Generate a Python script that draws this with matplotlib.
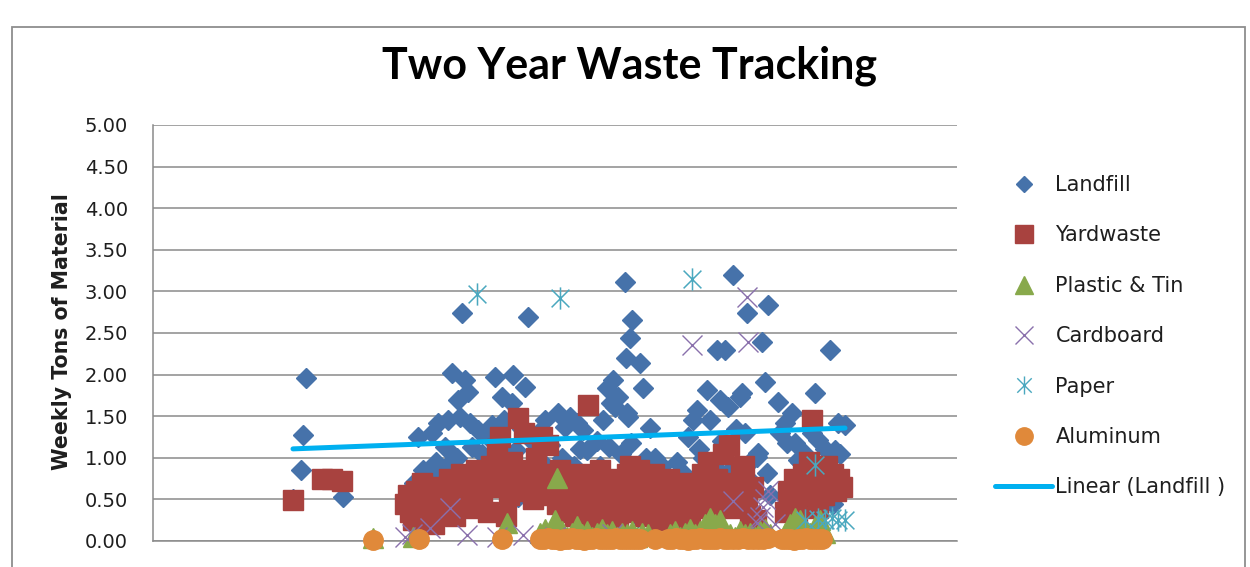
import matplotlib
matplotlib.use("Agg")
import matplotlib.pyplot as plt
from matplotlib.lines import Line2D
from matplotlib.path import Path
from matplotlib.patches import Rectangle
import numpy as np

# ---------------- data (x = day index of the tracking period, y = weekly tons) -------------
landfill_x = [293, 301, 303, 306, 343, 407, 410, 414, 418, 423, 427, 432, 436, 438, 442, 445, 447,
              448, 452, 455, 457, 458, 460, 462, 465, 466, 468, 470, 472, 476, 478, 482, 485, 487,
              488, 492, 495, 498, 500, 502, 504, 506, 508, 512, 513, 516, 518, 520, 522, 525, 528,
              530, 532, 535, 538, 542, 545, 548, 550, 553, 556, 558, 562, 565, 568, 570, 574, 577,
              580, 583, 585, 587, 590, 594, 597, 600, 603, 605, 607, 609, 611, 613, 615, 617, 618,
              621, 625, 626, 627, 628, 630, 631, 632, 634, 635, 638, 640, 643, 646, 650, 652, 655,
              659, 662, 668, 673, 677, 683, 688, 690, 693, 697, 699, 703, 707, 710, 714, 717, 720,
              722, 725, 728, 730, 733, 736, 740, 742, 745, 747, 750, 753, 757, 758, 762, 765, 767,
              768, 770, 778, 780, 785, 787, 790, 792, 795, 798, 800, 805, 808, 812, 815, 818, 822,
              825, 830, 833, 835, 838, 840, 842, 845]
landfill_y = [0.50, 0.85, 1.28, 1.96, 0.53, 0.45, 0.62, 0.70, 1.25, 0.85, 0.80, 1.30, 0.95, 1.42,
              0.82, 1.13, 0.90, 1.45, 2.02, 1.01, 1.00, 1.69, 1.49, 2.74, 1.94, 0.55, 1.79, 1.42,
              1.13, 0.65, 1.33, 1.05, 0.75, 0.60, 1.25, 1.40, 1.97, 0.85, 1.10, 1.73, 1.45, 0.65,
              0.95, 1.66, 2.00, 1.09, 0.53, 0.75, 1.35, 1.85, 2.69, 0.60, 1.20, 0.70, 1.30, 0.95,
              1.45, 0.65, 1.15, 0.80, 0.55, 1.54, 1.00, 1.37, 0.70, 1.49, 0.90, 1.42, 1.10, 1.33,
              0.60, 1.09, 0.22, 0.75, 1.20, 0.90, 1.45, 0.65, 1.84, 1.13, 1.66, 1.94, 1.61, 0.55,
              1.73, 1.05, 3.11, 2.20, 1.54, 1.49, 2.44, 1.18, 2.66, 0.60, 0.70, 0.29, 2.14, 1.84,
              1.00, 1.36, 0.65, 1.00, 0.65, 0.90, 0.75, 0.60, 0.95, 0.82, 1.25, 0.70, 1.45, 1.57,
              1.10, 1.00, 1.81, 1.45, 0.90, 2.30, 1.69, 1.20, 2.30, 1.61, 0.85, 3.20, 1.35, 1.73,
              1.78, 1.30, 2.74, 0.95, 0.70, 1.01, 1.06, 2.39, 1.91, 0.82, 2.84, 0.55, 1.67, 1.30,
              1.42, 1.18, 0.30, 1.54, 1.18, 0.97, 0.95, 1.05, 0.40, 1.30, 1.78, 1.21, 0.55, 1.10,
              2.30, 0.45, 1.09, 1.42, 1.05, 0.73, 1.40]

yard_x = [293, 322, 332, 342, 405, 408, 410, 413, 416, 419, 422, 425, 428, 431, 434, 437, 440, 443,
          446, 449, 452, 455, 458, 461, 464, 467, 470, 473, 476, 479, 482, 485, 488, 491, 494, 497,
          500, 503, 506, 509, 512, 515, 518, 521, 524, 527, 530, 533, 536, 539, 542, 545, 548, 551,
          554, 557, 560, 563, 566, 569, 572, 575, 578, 581, 584, 588, 591, 594, 597, 600, 603, 606,
          609, 612, 615, 618, 621, 624, 627, 630, 633, 636, 639, 642, 645, 648, 651, 654, 657, 660,
          663, 666, 669, 672, 675, 678, 681, 684, 687, 690, 693, 696, 699, 702, 705, 708, 711, 714,
          717, 720, 723, 726, 729, 732, 735, 738, 741, 744, 747, 750, 753, 756, 785, 788, 791, 794,
          797, 800, 803, 806, 809, 812, 815, 818, 821, 824, 827, 830, 833, 836, 839, 842]
yard_y = [0.49, 0.74, 0.75, 0.72, 0.45, 0.55, 0.35, 0.25, 0.60, 0.40, 0.70, 0.50, 0.30, 0.55, 0.20,
          0.65, 0.45, 0.60, 0.35, 0.75, 0.50, 0.30, 0.65, 0.80, 0.45, 0.55, 0.70, 0.40, 0.85, 0.60,
          0.50, 0.75, 0.35, 0.90, 0.65, 1.10, 1.25, 0.80, 0.30, 0.55, 0.95, 0.70, 1.48, 0.85, 1.30,
          0.60, 0.75, 0.50, 1.00, 0.65, 1.25, 0.80, 1.15, 0.55, 0.70, 0.45, 0.85, 0.60, 0.35, 0.75,
          0.50, 0.30, 0.65, 0.80, 0.45, 1.63, 0.55, 0.25, 0.70, 0.85, 0.40, 0.60, 0.30, 0.75, 0.50,
          0.20, 0.65, 0.45, 0.80, 0.90, 0.35, 0.60, 0.85, 0.50, 0.30, 0.70, 0.45, 0.80, 0.55, 0.25,
          0.65, 0.40, 0.75, 0.50, 0.35, 0.60, 0.20, 0.45, 0.70, 0.30, 0.55, 0.40, 0.65, 0.80, 0.50,
          0.95, 0.60, 0.35, 0.75, 0.55, 1.05, 0.45, 1.15, 0.70, 0.40, 0.60, 0.85, 0.90, 0.50, 0.30,
          0.65, 0.25, 0.35, 0.60, 0.45, 0.75, 0.30, 0.55, 0.80, 0.60, 0.95, 1.45, 0.85, 0.40, 0.70,
          0.55, 0.90, 0.65, 0.80, 0.60, 0.75, 0.65]

plastic_x = [373, 413, 507, 540, 545, 550, 555, 557, 562, 567, 572, 577, 582, 587, 592, 597, 602,
             607, 612, 617, 622, 627, 632, 637, 642, 648, 670, 675, 680, 685, 690, 695, 700, 705,
             710, 715, 720, 725, 730, 735, 740, 745, 750, 755, 760, 765, 770, 785, 790, 795, 800,
             805, 810, 815, 820, 825]
plastic_y = [0.04, 0.05, 0.22, 0.10, 0.15, 0.08, 0.25, 0.76, 0.12, 0.05, 0.10, 0.18, 0.08, 0.12,
             0.05, 0.10, 0.15, 0.08, 0.12, 0.05, 0.10, 0.08, 0.12, 0.05, 0.10, 0.08, 0.08, 0.12,
             0.05, 0.10, 0.15, 0.08, 0.12, 0.20, 0.28, 0.20, 0.25, 0.10, 0.08, 0.05, 0.12, 0.08,
             0.10, 0.05, 0.12, 0.15, 0.08, 0.10, 0.20, 0.28, 0.25, 0.15, 0.10, 0.18, 0.25, 0.10]

cardboard_x = [405, 412, 430, 450, 467, 497, 523, 555, 612, 692, 733, 747, 748, 757, 760, 763, 765,
               768, 775]
cardboard_y = [0.05, 0.08, 0.16, 0.40, 0.07, 0.05, 0.07, 0.05, 0.08, 2.36, 0.48, 2.93, 2.39, 0.22,
               0.29, 0.41, 0.50, 0.60, 0.20]

paper_x = [477, 560, 692, 805, 815, 818, 825, 832, 838, 845]
paper_y = [2.97, 2.92, 3.15, 0.25, 0.91, 0.27, 0.25, 0.28, 0.25, 0.25]

aluminum_x = [373, 419, 502, 540, 544, 548, 552, 556, 560, 564, 568, 572, 576, 580, 584, 588, 592,
              596, 600, 604, 608, 612, 616, 620, 624, 628, 632, 636, 640, 655, 668, 672, 676, 680,
              684, 688, 692, 696, 700, 704, 708, 712, 716, 720, 724, 728, 733, 738, 743, 748, 753,
              758, 763, 768, 782, 786, 790, 794, 798, 802, 806, 810, 814, 818, 822]
aluminum_y = [0.01, 0.03, 0.02, 0.03, 0.02, 0.04, 0.02, 0.03, 0.01, 0.03, 0.02, 0.04, 0.02, 0.03,
              0.01, 0.03, 0.02, 0.04, 0.03, 0.02, 0.03, 0.02, 0.04, 0.03, 0.02, 0.03, 0.02, 0.03,
              0.02, 0.02, 0.03, 0.02, 0.04, 0.02, 0.03, 0.01, 0.03, 0.02, 0.04, 0.03, 0.02, 0.03,
              0.02, 0.04, 0.03, 0.02, 0.03, 0.02, 0.04, 0.03, 0.02, 0.03, 0.02, 0.04, 0.03, 0.02,
              0.03, 0.01, 0.03, 0.02, 0.04, 0.03, 0.02, 0.03, 0.02]

series_labels = ["Landfill", "Yardwaste", "Plastic & Tin", "Cardboard", "Paper", "Aluminum"]
trend_label = "Linear (Landfill )"
y_ticks = [0.0, 0.5, 1.0, 1.5, 2.0, 2.5, 3.0, 3.5, 4.0, 4.5, 5.0]

# ---------------- styling -------------------------------------------------------------------
C_LAND = "#4672AA"
C_YARD = "#A8423F"
C_PLAS = "#88A94B"
C_CARD = "#8A70AC"
C_PAPR = "#4AA8BF"
C_ALUM = "#E0893A"
C_TREND = "#00B0F0"
GRID = "#8A8A8A"
TXT = "#1E1E1E"

star = Path([(0, -1), (0, 1), (-0.8, -0.8), (0.8, 0.8), (-0.8, 0.8), (0.8, -0.8)],
            [Path.MOVETO, Path.LINETO] * 3)

W, H = 1250, 567
fig = plt.figure(figsize=(W / 100, H / 100), dpi=100)
fig.patch.set_facecolor("white")

fig.add_artist(Rectangle((12 / W, -0.1), (1245 - 12) / W, 1.1 - 27 / H,
                         transform=fig.transFigure, fill=False, edgecolor="#8E8E8E", lw=1.3))

ax = fig.add_axes([153 / W, 1 - 541 / H, (957 - 153) / W, (541 - 125) / H])
ax.set_xlim(153, 957)
ax.set_ylim(0, 5)
ax.set_yticks(y_ticks)
ax.set_yticklabels([f"{v:.2f}" for v in y_ticks], fontsize=14, color=TXT, family="DejaVu Sans")
ax.tick_params(axis="y", length=0, pad=18)
ax.set_xticks([])
for s in ["top", "right"]:
    ax.spines[s].set_visible(False)
for s in ["left", "bottom"]:
    ax.spines[s].set_color(GRID)
    ax.spines[s].set_linewidth(1.1)
ax.grid(axis="y", color=GRID, lw=1.1)
ax.set_axisbelow(True)

ax.plot(landfill_x, landfill_y, ls="none", marker="D", ms=10.2, color=C_LAND, mec=C_LAND,
        clip_on=False, zorder=3)
ax.plot(yard_x, yard_y, ls="none", marker="s", ms=14.0, color=C_YARD, mec=C_YARD,
        clip_on=False, zorder=4)
ax.plot(plastic_x, plastic_y, ls="none", marker="^", ms=14.0, color=C_PLAS, mec=C_PLAS,
        clip_on=False, zorder=5)
ax.plot(cardboard_x, cardboard_y, ls="none", marker="x", ms=15.0, mew=1.0, color=C_CARD,
        clip_on=False, zorder=6)
ax.plot(paper_x, paper_y, ls="none", marker=star, ms=16.0, mew=1.1, color=C_PAPR,
        mfc="none", clip_on=False, zorder=7)
ax.plot(aluminum_x, aluminum_y, ls="none", marker="o", ms=14.0, color=C_ALUM, mec=C_ALUM,
        clip_on=False, zorder=8)

# linear trend line of the landfill series
coef = np.polyfit(landfill_x, landfill_y, 1)
tx = np.array([min(landfill_x), max(landfill_x)])
ax.plot(tx, np.polyval(coef, tx), color=C_TREND, lw=3.6, solid_capstyle="round", zorder=10)

fig.text(630 / W, 1 - 78 / H, "Two Year Waste Tracking", ha="center", va="baseline",
         fontsize=31, fontweight="bold", family="Lato", color="black")
fig.text(62 / W, 1 - 332 / H, "Weekly Tons of Material", rotation=90, ha="center", va="center",
         fontsize=14.8, fontweight="bold", family="DejaVu Sans", color=TXT)

handles = [
    Line2D([], [], ls="none", marker="D", ms=8.5, color=C_LAND),
    Line2D([], [], ls="none", marker="s", ms=12.5, color=C_YARD),
    Line2D([], [], ls="none", marker="^", ms=12.5, color=C_PLAS),
    Line2D([], [], ls="none", marker="x", ms=12.5, mew=1.0, color=C_CARD),
    Line2D([], [], ls="none", marker=star, ms=13, mew=1.0, color=C_PAPR),
    Line2D([], [], ls="none", marker="o", ms=12.5, color=C_ALUM),
    Line2D([], [], color=C_TREND, lw=3.6, solid_capstyle="round"),
]
leg = fig.legend(handles, series_labels + [trend_label], loc="upper left",
                 bbox_to_anchor=(995 / W, 1 - 175 / H), frameon=False,
                 handlelength=2.75, handletextpad=0.15, labelspacing=1.46, borderpad=0,
                 borderaxespad=0, prop={"family": "DejaVu Sans", "size": 15})
for t in leg.get_texts():
    t.set_color(TXT)

fig.savefig("out.png", dpi=100)
